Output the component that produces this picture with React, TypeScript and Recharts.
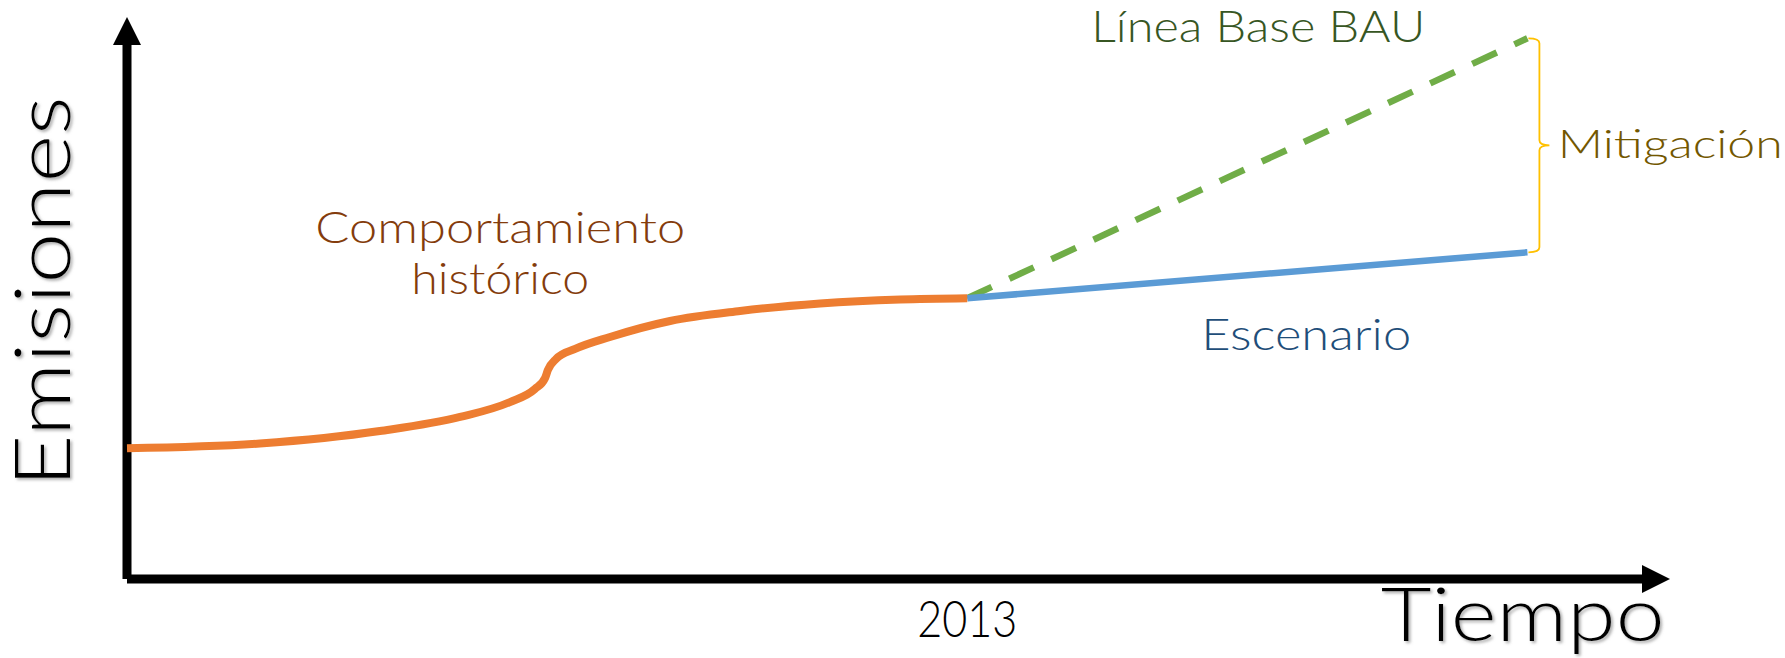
import React from "react";
import { LineChart, Line, XAxis, YAxis, ReferenceLine, ReferenceDot } from "recharts";

// historic emissions curve (years / emission index)
const historyYears = [1980, 1985.22, 1989.93, 1993.08, 1995.04, 1996.02, 1996.42, 1996.53, 1996.85, 1997.6, 1998.97, 2001.33, 2004.08, 2007.22, 2010.37, 2013];
const historyValues = [23.26, 24.11, 26.33, 28.83, 31.49, 33.81, 35.77, 37.19, 39.15, 40.93, 43.06, 45.91, 47.69, 49.02, 49.73, 49.95];

// projections from 2013
const projectionYears = [2013, 2035];
const bauValues = [49.95, 96.21];
const scenarioValues = [49.95, 58.13];

const yearTicks = [2013];

const X_MIN = 1980;
const X_MAX = 2040.6;

const FONT = "Lato, 'Open Sans', sans-serif";

const historyData = historyYears.map((year, i) => ({ year, value: historyValues[i] }));
const bauData = projectionYears.map((year, i) => ({ year, value: bauValues[i] }));
const scenarioData = projectionYears.map((year, i) => ({ year, value: scenarioValues[i] }));

const ArrowAxis = (p: any) => {
  const { x1, y1, x2, y2 } = p;
  const len = Math.hypot(x2 - x1, y2 - y1);
  const ux = (x2 - x1) / len;
  const uy = (y2 - y1) / len;
  const bx = x2 - ux * 28;
  const by = y2 - uy * 28;
  const px = -uy * 14;
  const py = ux * 14;
  return (
    <g>
      <line x1={x1} y1={y1} x2={bx} y2={by} stroke="#000" strokeWidth={9} />
      <polygon points={`${x2},${y2} ${bx + px},${by + py} ${bx - px},${by - py}`} fill="#000" />
    </g>
  );
};

const Brace = (p: any) => {
  const { x1, y1, y2 } = p;
  const x = x1 + 12;
  const mid = (y1 + y2) / 2;
  const r = 5;
  const d = `M${x1 + 1},${y1} Q${x},${y1} ${x},${y1 + r} L${x},${mid - r} Q${x},${mid} ${x + 10},${mid} Q${x},${mid} ${x},${mid + r} L${x},${y2 - r} Q${x},${y2} ${x1 + 1},${y2}`;
  return <path d={d} fill="none" stroke="#FFC000" strokeWidth={1.8} />;
};

const textShape =
  (text: string, size: number, color: string, length: number, anchor: "start" | "middle" | "end" = "middle", shadow = false) =>
  (p: any) => (
    <text
      x={p.cx}
      y={p.cy}
      fontSize={size}
      fill={color}
      textAnchor={anchor}
      textLength={length}
      lengthAdjust="spacingAndGlyphs"
      fontFamily={FONT}
      fontWeight={300}
      filter={shadow ? "url(#txtShadow)" : undefined}
    >
      {text}
    </text>
  );

const VerticalTitle = (p: any) => (
  <g filter="url(#txtShadow)">
    <defs>
      <filter id="txtShadow" x="-10%" y="-10%" width="130%" height="130%">
        <feDropShadow dx={2} dy={2} stdDeviation={1.5} floodColor="#777" floodOpacity={0.6} />
      </filter>
    </defs>
    <text
      x={p.cx}
      y={p.cy}
      transform={`rotate(-90 ${p.cx} ${p.cy})`}
      fontSize={77}
      fill="#000"
      textAnchor="middle"
      textLength={391}
      lengthAdjust="spacingAndGlyphs"
      fontFamily={FONT}
      fontWeight={300}
    >
      Emisiones
    </text>
  </g>
);

const YearTick = (p: any) => (
  <text
    x={p.x}
    y={p.y + 58}
    fontSize={52}
    fill="#000"
    textAnchor="middle"
    textLength={100}
    lengthAdjust="spacingAndGlyphs"
    fontFamily={FONT}
    fontWeight={300}
  >
    {p.payload.value}
  </text>
);

export default function App() {
  return (
    <div style={{ position: "absolute", left: 0, top: 0, width: 1785, height: 658, background: "#fff" }}>
      <LineChart width={1785} height={658} margin={{ top: 17, right: 115, bottom: 0, left: 127 }}>
        <XAxis
          type="number"
          dataKey="year"
          domain={[X_MIN, X_MAX]}
          ticks={yearTicks}
          height={79}
          axisLine={false}
          tickLine={false}
          tickSize={0}
          tickMargin={0}
          tick={YearTick}
        />
        <YAxis type="number" dataKey="value" domain={[0, 100]} hide />

        <ReferenceLine segment={[{ x: X_MIN, y: 0 }, { x: X_MIN, y: 100 }]} shape={ArrowAxis} />
        <ReferenceLine segment={[{ x: X_MIN, y: 0 }, { x: X_MAX, y: 0 }]} shape={ArrowAxis} />

        <Line data={bauData} dataKey="value" type="linear" stroke="#70AD47" strokeWidth={6.5} strokeDasharray="27 19.4" dot={false} activeDot={false} isAnimationActive={false} />
        <Line data={scenarioData} dataKey="value" type="linear" stroke="#5B9BD5" strokeWidth={6.5} dot={false} activeDot={false} isAnimationActive={false} />
        <Line data={historyData} dataKey="value" type="monotone" stroke="#ED7D31" strokeWidth={8} dot={false} activeDot={false} isAnimationActive={false} />

        <ReferenceLine segment={[{ x: 2035, y: 96.21 }, { x: 2035, y: 58.13 }]} shape={Brace} />

        <ReferenceDot x={1977.78} y={51.09} r={0} ifOverflow="visible" shape={VerticalTitle} />
        <ReferenceDot x={2040.39} y={-11.03} r={0} ifOverflow="visible" shape={textShape("Tiempo", 74, "#000", 284, "end", true)} />
        <ReferenceDot x={2024.43} y={95.5} r={0} ifOverflow="visible" shape={textShape("Línea Base BAU", 43, "#375623", 334)} />
        <ReferenceDot x={2036.19} y={74.86} r={0} ifOverflow="visible" shape={textShape("Mitigación", 40, "#735700", 225, "start")} />
        <ReferenceDot x={2026.31} y={40.75} r={0} ifOverflow="visible" shape={textShape("Escenario", 43, "#1F4E79", 210)} />
        <ReferenceDot x={1994.66} y={59.72} r={0} ifOverflow="visible" shape={textShape("Comportamiento", 43, "#843C0C", 370)} />
        <ReferenceDot x={1994.66} y={50.77} r={0} ifOverflow="visible" shape={textShape("histórico", 43, "#843C0C", 178)} />
      </LineChart>
    </div>
  );
}
